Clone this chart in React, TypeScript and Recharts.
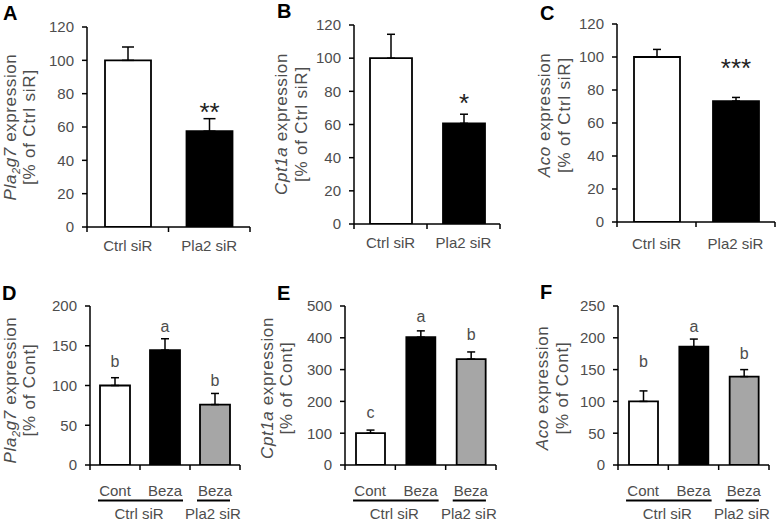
import React from 'react';
import { BarChart, Bar, XAxis, YAxis, ErrorBar, Cell, LabelList } from 'recharts';

// ---------- data ----------
const topCategories = ['Ctrl siR', 'Pla2 siR'];
const bottomCategories = ['Cont', 'Beza', 'Beza'];
const bottomGroups = ['Ctrl siR', 'Pla2 siR'];

const pla2g7SiValues = [100, 57.5];
const pla2g7SiErrors = [8, 7.5];
const pla2g7SiMarks = ['', '**'];

const cpt1aSiValues = [100, 60.7];
const cpt1aSiErrors = [14.4, 5.5];
const cpt1aSiMarks = ['', '*'];

const acoSiValues = [100, 73.3];
const acoSiErrors = [4.6, 2.2];
const acoSiMarks = ['', '***'];

const pla2g7BezaValues = [100, 144.5, 76];
const pla2g7BezaErrors = [9.8, 14.3, 14];
const pla2g7BezaMarks = ['b', 'a', 'b'];

const cpt1aBezaValues = [100, 402, 333];
const cpt1aBezaErrors = [9.8, 19.8, 22.5];
const cpt1aBezaMarks = ['c', 'a', 'b'];

const acoBezaValues = [100, 186, 139];
const acoBezaErrors = [16.5, 12, 11];
const acoBezaMarks = ['b', 'a', 'b'];

const ticks120 = [0, 20, 40, 60, 80, 100, 120];
const ticks200 = [0, 50, 100, 150, 200];
const ticks500 = [0, 100, 200, 300, 400, 500];
const ticks250 = [0, 50, 100, 150, 200, 250];

// ---------- styles ----------
const FONT = '"Liberation Sans", Arial, sans-serif';
const TEXT = '#4d4d4d';
const topFills = ['#ffffff', '#000000'];
const bottomFills = ['#ffffff', '#000000', '#a6a6a6'];
const Y_AXIS_W = 60;
const X_AXIS_H = 30;

type PanelProps = {
  box: { x: number; y: number; w: number; h: number };
  plot: { l: number; r: number; t: number; b: number };
  categories: string[];
  values: number[];
  errors: number[];
  marks: string[];
  markOffsets: number[];
  markFont: number;
  markColor: string;
  ticks: number[];
  fills: string[];
  barSize: number;
  capWidth: number;
  grouped: boolean;
  labelDy: number;
};

function XTick(props: any) {
  const { x, y, payload, index, categories, grouped, labelDy, halfBand, n } = props;
  const h = payload && typeof payload.offset === 'number' && payload.offset > 0 ? payload.offset : halfBand;
  const band = h * 2;
  const items: React.ReactNode[] = [];
  items.push(<line key="t0" x1={x - h} x2={x - h} y1={y} y2={y + 5} stroke="#000" strokeWidth={1.5} />);
  if (index === n - 1) {
    items.push(<line key="t1" x1={x + h} x2={x + h} y1={y} y2={y + 5} stroke="#000" strokeWidth={1.5} />);
  }
  items.push(
    <text key="lab" x={x} y={y + labelDy} textAnchor="middle" fontSize={15} fill={TEXT} fontFamily={FONT}>
      {categories[index]}
    </text>
  );
  if (grouped) {
    if (index === 0) {
      items.push(<line key="g0" x1={x - 0.34 * band} x2={x + band + 0.36 * band} y1={y + 35.5} y2={y + 35.5} stroke="#000" strokeWidth={2} />);
      items.push(
        <text key="g0t" x={x + h - 1} y={y + 54} textAnchor="middle" fontSize={15} fill={TEXT} fontFamily={FONT}>
          {bottomGroups[0]}
        </text>
      );
    }
    if (index === 2) {
      items.push(<line key="g1" x1={x - 0.36 * band} x2={x + 0.3 * band} y1={y + 35.5} y2={y + 35.5} stroke="#000" strokeWidth={2} />);
      items.push(
        <text key="g1t" x={x - 2} y={y + 54} textAnchor="middle" fontSize={15} fill={TEXT} fontFamily={FONT}>
          {bottomGroups[1]}
        </text>
      );
    }
  }
  return <g>{items}</g>;
}

function Panel(p: PanelProps) {
  const data = p.categories.map((c, i) => ({
    key: 'k' + i,
    value: p.values[i],
    err: [0, p.errors[i]],
  }));
  const margin = {
    top: p.plot.t - p.box.y,
    right: p.box.x + p.box.w - p.plot.r,
    left: p.plot.l - p.box.x - Y_AXIS_W,
    bottom: p.box.y + p.box.h - p.plot.b - X_AXIS_H,
  };
  const n = p.categories.length;
  const halfBand = (p.plot.r - p.plot.l) / n / 2;
  const renderMark = (lp: any) => {
    const { x, y, width, height, index } = lp;
    const v = p.values[index];
    const ppu = Number(height) / v;
    const top = Number(y) - p.errors[index] * ppu;
    return (
      <text
        key={'m' + index}
        x={Number(x) + Number(width) / 2}
        y={top + p.markOffsets[index]}
        textAnchor="middle"
        fontSize={p.markFont}
        fill={p.markColor}
        fontFamily={FONT}
      >
        {p.marks[index]}
      </text>
    );
  };
  const max = p.ticks[p.ticks.length - 1];
  return (
    <div style={{ position: 'absolute', left: p.box.x, top: p.box.y }}>
      <BarChart width={p.box.w} height={p.box.h} data={data} margin={margin}>
        <XAxis
          dataKey="key"
          height={X_AXIS_H}
          axisLine={{ stroke: '#000', strokeWidth: 1.5 }}
          tickLine={false}
          tickSize={0}
          tickMargin={0}
          interval={0}
          tick={<XTick categories={p.categories} grouped={p.grouped} labelDy={p.labelDy} halfBand={halfBand} n={n} />}
        />
        <YAxis
          width={Y_AXIS_W}
          domain={[0, max]}
          ticks={p.ticks}
          interval={0}
          allowDataOverflow
          axisLine={{ stroke: '#000', strokeWidth: 1.5 }}
          tickLine={{ stroke: '#000', strokeWidth: 1.5 }}
          tickSize={5}
          tickMargin={8}
          tick={{ fill: TEXT, fontSize: 15, fontFamily: FONT }}
        />
        <Bar dataKey="value" barSize={p.barSize} stroke="#000" strokeWidth={1.8} isAnimationActive={false}>
          {data.map((d, i) => (
            <Cell key={d.key} fill={p.fills[i]} />
          ))}
          <ErrorBar dataKey="err" direction="y" width={p.capWidth} stroke="#000" strokeWidth={1.5} />
          <LabelList dataKey="value" content={renderMark} />
        </Bar>
      </BarChart>
    </div>
  );
}

function Title(props: { x1: number; x2: number; cy: number; gene: React.ReactNode; unit: string }) {
  const { x1, x2, cy, gene, unit } = props;
  return (
    <g fontFamily={FONT} fontSize={17} fill={TEXT}>
      <text transform={`translate(${x1},${cy}) rotate(-90)`} textAnchor="middle" letterSpacing={0.6}>
        {gene}
        <tspan> expression</tspan>
      </text>
      <text transform={`translate(${x2},${cy}) rotate(-90)`} textAnchor="middle" letterSpacing={0.8}>
        {unit}
      </text>
    </g>
  );
}

const pla2g7Label = (
  <>
    <tspan fontStyle="italic">Pla</tspan>
    <tspan fontStyle="italic" fontSize={11} dy={4}>2</tspan>
    <tspan fontStyle="italic" dy={-4}>g7</tspan>
  </>
);
const cpt1aLabel = <tspan fontStyle="italic">Cpt1a</tspan>;
const acoLabel = <tspan fontStyle="italic">Aco</tspan>;

export default function App() {
  return (
    <div style={{ position: 'absolute', left: 0, top: 0, width: 777, height: 524, background: '#fff', fontFamily: FONT }}>
      <Panel
        box={{ x: 0, y: 0, w: 255, h: 270 }}
        plot={{ l: 87, r: 250, t: 27, b: 227 }}
        categories={topCategories}
        values={pla2g7SiValues}
        errors={pla2g7SiErrors}
        marks={pla2g7SiMarks}
        markOffsets={[0, 2.5]}
        markFont={26}
        markColor="#222"
        ticks={ticks120}
        fills={topFills}
        barSize={46}
        capWidth={6}
        grouped={false}
        labelDy={24}
      />
      <Panel
        box={{ x: 255, y: 0, w: 255, h: 270 }}
        plot={{ l: 354, r: 500, t: 25, b: 224 }}
        categories={topCategories}
        values={cpt1aSiValues}
        errors={cpt1aSiErrors}
        marks={cpt1aSiMarks}
        markOffsets={[0, -2]}
        markFont={26}
        markColor="#222"
        ticks={ticks120}
        fills={topFills}
        barSize={42}
        capWidth={4}
        grouped={false}
        labelDy={24}
      />
      <Panel
        box={{ x: 510, y: 0, w: 267, h: 270 }}
        plot={{ l: 617, r: 775, t: 24, b: 222 }}
        categories={topCategories}
        values={acoSiValues}
        errors={acoSiErrors}
        marks={acoSiMarks}
        markOffsets={[0, -20]}
        markFont={26}
        markColor="#222"
        ticks={ticks120}
        fills={topFills}
        barSize={46}
        capWidth={4}
        grouped={false}
        labelDy={27}
      />
      <Panel
        box={{ x: 0, y: 270, w: 255, h: 254 }}
        plot={{ l: 90, r: 240, t: 306, b: 465 }}
        categories={bottomCategories}
        values={pla2g7BezaValues}
        errors={pla2g7BezaErrors}
        marks={pla2g7BezaMarks}
        markOffsets={[-10.5, -6.6, -7.7]}
        markFont={16}
        markColor={TEXT}
        ticks={ticks200}
        fills={bottomFills}
        barSize={30}
        capWidth={4}
        grouped={true}
        labelDy={31}
      />
      <Panel
        box={{ x: 255, y: 270, w: 255, h: 254 }}
        plot={{ l: 345, r: 496, t: 306, b: 465 }}
        categories={bottomCategories}
        values={cpt1aBezaValues}
        errors={cpt1aBezaErrors}
        marks={cpt1aBezaMarks}
        markOffsets={[-12, -9, -12]}
        markFont={16}
        markColor={TEXT}
        ticks={ticks500}
        fills={bottomFills}
        barSize={29}
        capWidth={4}
        grouped={true}
        labelDy={31}
      />
      <Panel
        box={{ x: 510, y: 270, w: 267, h: 254 }}
        plot={{ l: 618, r: 769, t: 306, b: 465 }}
        categories={bottomCategories}
        values={acoBezaValues}
        errors={acoBezaErrors}
        marks={acoBezaMarks}
        markOffsets={[-24, -7, -11]}
        markFont={16}
        markColor={TEXT}
        ticks={ticks250}
        fills={bottomFills}
        barSize={29}
        capWidth={4}
        grouped={true}
        labelDy={31}
      />
      <svg width={777} height={524} style={{ position: 'absolute', left: 0, top: 0, pointerEvents: 'none' }}>
        <g fontFamily={FONT} fontWeight="bold" fontSize={20} fill="#000">
          <text x={3} y={20}>A</text>
          <text x={277} y={18}>B</text>
          <text x={540} y={20}>C</text>
          <text x={2} y={300}>D</text>
          <text x={277} y={300}>E</text>
          <text x={540} y={299}>F</text>
        </g>
        <Title x1={16} x2={35} cy={127} gene={pla2g7Label} unit="[% of Ctrl siR]" />
        <Title x1={287} x2={307} cy={124} gene={cpt1aLabel} unit="[% of Ctrl siR]" />
        <Title x1={550} x2={570} cy={115} gene={acoLabel} unit="[% of Ctrl siR]" />
        <Title x1={16} x2={35} cy={390} gene={pla2g7Label} unit="[% of Cont]" />
        <Title x1={273} x2={292} cy={388} gene={cpt1aLabel} unit="[% of Cont]" />
        <Title x1={548} x2={568} cy={388} gene={acoLabel} unit="[% of Cont]" />
      </svg>
    </div>
  );
}
